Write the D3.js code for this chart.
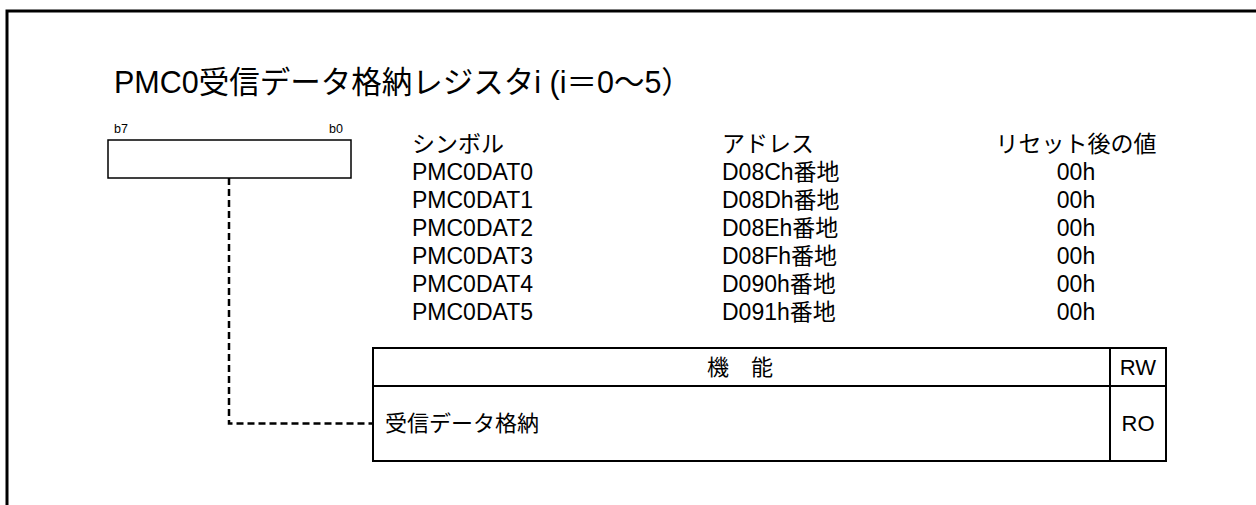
<!DOCTYPE html>
<html><head><meta charset="utf-8">
<script src="https://cdn.jsdelivr.net/npm/d3@7"></script>
<style>
html,body{margin:0;padding:0;background:#fff;}
svg text{font-family:"Liberation Sans",Arial,"Noto Sans CJK JP",sans-serif;fill:#000;}
</style></head>
<body>
<script>
const title = "PMC0受信データ格納レジスタi (i＝0〜5）";
const bitLabels = ["b7", "b0"];
const columnHeaders = ["シンボル", "アドレス", "リセット後の値"];
const symbols = ["PMC0DAT0", "PMC0DAT1", "PMC0DAT2", "PMC0DAT3", "PMC0DAT4", "PMC0DAT5"];
const addresses = ["D08Ch番地", "D08Dh番地", "D08Eh番地", "D08Fh番地", "D090h番地", "D091h番地"];
const resetValues = ["00h", "00h", "00h", "00h", "00h", "00h"];
const tableHeader = ["機　能", "RW"];
const functions = ["受信データ格納"];
const rwValues = ["RO"];

const W = 1256, H = 505;
const svg = d3.select("body").append("svg").attr("width", W).attr("height", H);

// outer frame
svg.append("path").attr("d", `M${W+5},11 H7 V${H+5}`).attr("fill", "none")
  .attr("stroke", "#000").attr("stroke-width", 3);

// title
svg.append("text").attr("x", 114).attr("y", 93).attr("font-size", 30.5).text(title);

// register box via bit scale
const bitScale = d3.scaleLinear().domain([7.5, -0.5]).range([108, 351]);
svg.append("rect").attr("x", bitScale(7.5)).attr("y", 140)
  .attr("width", bitScale(-0.5) - bitScale(7.5)).attr("height", 38)
  .attr("fill", "none").attr("stroke", "#000").attr("stroke-width", 1.5);
svg.append("text").attr("x", bitScale(7.5) + 6).attr("y", 133).attr("font-size", 12.5).text(bitLabels[0]);
svg.append("text").attr("x", bitScale(-0.5) - 8).attr("y", 133).attr("font-size", 12.5)
  .attr("text-anchor", "end").text(bitLabels[1]);

// rows of symbol list
const rowY = d3.scalePoint().domain(["hdr", ...symbols]).range([144, 312]);
const colX = {sym: 412, addr: 722, reset: 1076};
const fs = 23;
const listG = svg.append("g");
listG.append("text").attr("x", colX.sym).attr("y", rowY("hdr")).attr("dy", "0.36em").attr("font-size", fs).text(columnHeaders[0]);
listG.append("text").attr("x", colX.addr).attr("y", rowY("hdr")).attr("dy", "0.36em").attr("font-size", fs).text(columnHeaders[1]);
listG.append("text").attr("x", colX.reset).attr("y", rowY("hdr")).attr("dy", "0.36em").attr("font-size", fs)
  .attr("text-anchor", "middle").text(columnHeaders[2]);
symbols.forEach((s, i) => {
  listG.append("text").attr("x", colX.sym).attr("y", rowY(s)).attr("dy", "0.36em").attr("font-size", fs).text(s);
  listG.append("text").attr("x", colX.addr).attr("y", rowY(s)).attr("dy", "0.36em").attr("font-size", fs).text(addresses[i]);
  listG.append("text").attr("x", colX.reset).attr("y", rowY(s)).attr("dy", "0.36em").attr("font-size", fs)
    .attr("text-anchor", "middle").text(resetValues[i]);
});

// function table
const tfs = 22;
const tX0 = 373, tX1 = 1166, rwX = 1110;
const tY = d3.scaleLinear().domain([0, 1, 3]).range([348, 386, 461]);
const tg = svg.append("g").attr("stroke", "#000").attr("stroke-width", 2).attr("fill", "none");
tg.append("rect").attr("x", tX0).attr("y", tY(0)).attr("width", tX1 - tX0).attr("height", tY(3) - tY(0));
tg.append("line").attr("x1", tX0).attr("x2", tX1).attr("y1", tY(1)).attr("y2", tY(1));
tg.append("line").attr("x1", rwX).attr("x2", rwX).attr("y1", tY(0)).attr("y2", tY(3));

svg.append("text").attr("x", 740).attr("y", tY(0.5)).attr("dy", "0.36em").attr("font-size", tfs)
  .attr("text-anchor", "middle").text(tableHeader[0]);
svg.append("text").attr("x", (rwX + tX1) / 2).attr("y", tY(0.5)).attr("dy", "0.36em").attr("font-size", tfs)
  .attr("text-anchor", "middle").text(tableHeader[1]);
svg.append("text").attr("x", 385).attr("y", tY(2)).attr("dy", "0.36em").attr("font-size", tfs).text(functions[0]);
svg.append("text").attr("x", (rwX + tX1) / 2).attr("y", tY(2)).attr("dy", "0.36em").attr("font-size", tfs)
  .attr("text-anchor", "middle").text(rwValues[0]);

// dashed connector
svg.append("path").attr("d", `M229,178 V${tY(2)} H${tX0}`).attr("fill", "none")
  .attr("stroke", "#000").attr("stroke-width", 2.5).attr("stroke-dasharray", "7,4");
</script>
</body></html>
